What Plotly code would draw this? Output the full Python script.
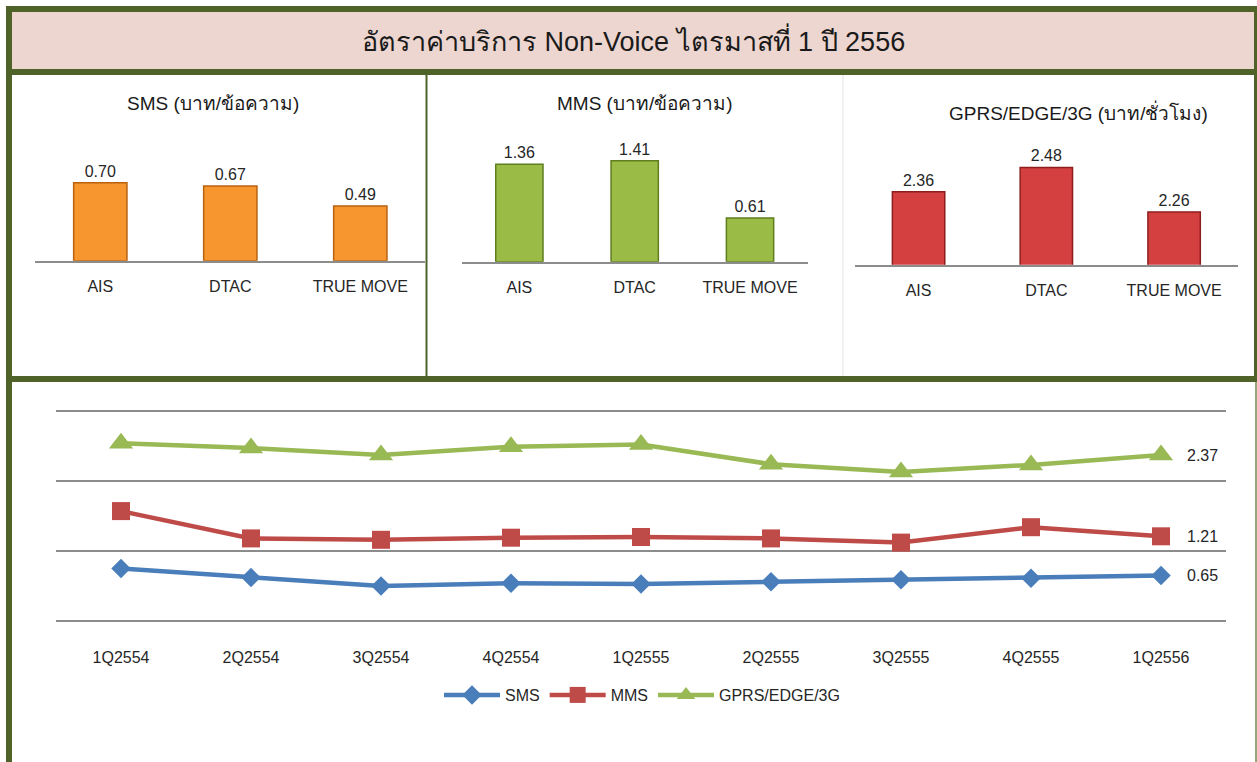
import plotly.graph_objects as go

# ---------------- data ----------------
companies = ["AIS", "DTAC", "TRUE MOVE"]
sms_rates = [0.70, 0.67, 0.49]
mms_rates = [1.36, 1.41, 0.61]
gprs_rates = [2.36, 2.48, 2.26]

quarters = ["1Q2554", "2Q2554", "3Q2554", "4Q2554", "1Q2555",
            "2Q2555", "3Q2555", "4Q2555", "1Q2556"]
sms_trend = [0.75, 0.62, 0.50, 0.54, 0.53, 0.56, 0.59, 0.61, 0.65]
mms_trend = [1.57, 1.18, 1.16, 1.19, 1.20, 1.18, 1.12, 1.34, 1.21]
gprs_trend = [2.54, 2.47, 2.37, 2.49, 2.52, 2.24, 2.13, 2.23, 2.37]

main_title = "อัตราค่าบริการ Non-Voice ไตรมาสที่ 1 ปี 2556"
panel_titles = ["SMS (บาท/ข้อความ)", "MMS (บาท/ข้อความ)", "GPRS/EDGE/3G (บาท/ชั่วโมง)"]
series_names = ["SMS", "MMS", "GPRS/EDGE/3G"]

# ---------------- geometry helpers ----------------
W, H = 1257, 762
def PX(x):
    return x / W
def PY(y):
    return 1 - y / H

FONT = "Liberation Sans, Arial, Tahoma, sans-serif"
TXT = "#262626"
OLIVE = "#4F6228"
GRID = "#8C8C8C"

fig = go.Figure()

# ---------------- bar panels ----------------
bar_specs = [
    (sms_rates, "#F7962F", "#B8620F", "x", "y"),
    (mms_rates, "#9BBB47", "#5F7E1E", "x2", "y2"),
    (gprs_rates, "#D43F3F", "#8E1E1E", "x3", "y3"),
]
for vals, col, edge, xa, ya in bar_specs:
    fig.add_trace(go.Bar(
        x=companies, y=vals, xaxis=xa, yaxis=ya,
        width=0.41,
        marker=dict(color=col, line=dict(color=edge, width=1.5)),
        texttemplate="%{y:.2f}", textposition="outside",
        textfont=dict(family=FONT, size=16, color=TXT),
        cliponaxis=False, showlegend=False, hoverinfo="skip",
    ))

# ---------------- line chart ----------------
line_specs = [
    (sms_trend, series_names[0], "#4A7EBB", "diamond", 15),
    (mms_trend, series_names[1], "#BE4B48", "square", 18),
    (gprs_trend, series_names[2], "#98B954", "triangle-up", 21),
]
for vals, name, col, sym, sz in line_specs:
    fig.add_trace(go.Scatter(
        x=quarters, y=vals, name=name, xaxis="x4", yaxis="y4",
        mode="lines+markers",
        line=dict(color=col, width=4.5),
        marker=dict(symbol=sym, size=sz, color=col),
        cliponaxis=False,
    ))

annotations = []
for vals, name, col, sym, sz in line_specs:
    annotations.append(dict(
        x=quarters[-1], y=vals[-1], xref="x4", yref="y4",
        text=f"{vals[-1]:.2f}", showarrow=False, xanchor="left",
        yanchor="middle", xshift=24,
        font=dict(family=FONT, size=16, color=TXT),
    ))

# titles
annotations.append(dict(x=PX(633), y=PY(40), xref="paper", yref="paper",
                        text=main_title, showarrow=False,
                        xanchor="center", yanchor="middle",
                        font=dict(family=FONT, size=27, color="#1a1a1a")))
for t, cx, cy in zip(panel_titles, [213, 645, 1078], [103, 103, 112]):
    annotations.append(dict(x=PX(cx), y=PY(cy), xref="paper", yref="paper",
                            text=t, showarrow=False,
                            xanchor="center", yanchor="middle",
                            font=dict(family=FONT, size=19, color="#1a1a1a")))

# ---------------- frame shapes ----------------
def rect(x0, y0, x1, y1, color):
    return dict(type="rect", xref="paper", yref="paper",
                x0=PX(x0), x1=PX(x1), y0=PY(y1), y1=PY(y0),
                fillcolor=color, line=dict(width=0), layer="below")

shapes = [
    rect(12, 12, 1254, 69, "#EDD6D0"),
    rect(6, 6, 1257, 12, OLIVE),
    rect(6, 6, 12, 762, OLIVE),
    rect(1254, 6, 1257, 382, OLIVE),
    rect(1255, 382, 1257, 762, "#97A77A"),
    rect(6, 69, 1257, 75, OLIVE),
    rect(425.5, 75, 427.5, 376, OLIVE),
    rect(842.5, 75, 843.5, 376, "#E4E4E0"),
    rect(6, 376, 1257, 382, OLIVE),
]

# ---------------- axes ----------------
def bar_x(x0, x1):
    return dict(domain=[PX(x0), PX(x1)], showline=True, linecolor=GRID,
                linewidth=2, showgrid=False, zeroline=False, ticks="",
                tickfont=dict(family=FONT, size=16, color=TXT),
                ticklabelstandoff=10, fixedrange=True)

def bar_y(ybot, ytop, rng):
    return dict(domain=[PY(ybot), PY(ytop)], range=rng, visible=False,
                fixedrange=True)

layout = dict(
    width=W, height=H, margin=dict(l=0, r=0, t=0, b=0),
    paper_bgcolor="white", plot_bgcolor="white",
    font=dict(family=FONT, color=TXT),
    xaxis=dict(bar_x(35.3, 425.3), anchor="y"),
    yaxis=dict(bar_y(260.7, 149.3, [0, 1.0]), anchor="x"),
    xaxis2=dict(bar_x(461.7, 807.7), anchor="y2"),
    yaxis2=dict(bar_y(261.7, 154.3, [0, 1.5]), anchor="x2"),
    xaxis3=dict(bar_x(854.7, 1238), anchor="y3"),
    yaxis3=dict(bar_y(264.7, 163.4, [2.0, 2.5]), anchor="x3"),
    xaxis4=dict(domain=[PX(56), PX(1226)], anchor="y4", range=[-0.5, 8.5],
                showline=False, showgrid=False, zeroline=False, ticks="",
                tickfont=dict(family=FONT, size=16, color=TXT),
                ticklabelstandoff=21, fixedrange=True),
    yaxis4=dict(domain=[PY(624.5), PY(407.5)], anchor="x4",
                range=[-0.05, 3.05],
                tickvals=[0, 1, 2, 3], showgrid=True, gridcolor=GRID,
                gridwidth=2, zeroline=False, showticklabels=False,
                fixedrange=True),
    legend=dict(orientation="h", x=PX(642), y=PY(695), xanchor="center",
                yanchor="middle", font=dict(family=FONT, size=16, color=TXT),
                itemwidth=56, bgcolor="rgba(0,0,0,0)"),
    annotations=annotations,
    shapes=shapes,
    bargap=0.59,
)
fig.update_layout(**layout)

fig.write_html("out.html",
               config={"displayModeBar": False},
               post_script="document.body.style.margin='0';"
                           "document.body.style.overflow='hidden';")
